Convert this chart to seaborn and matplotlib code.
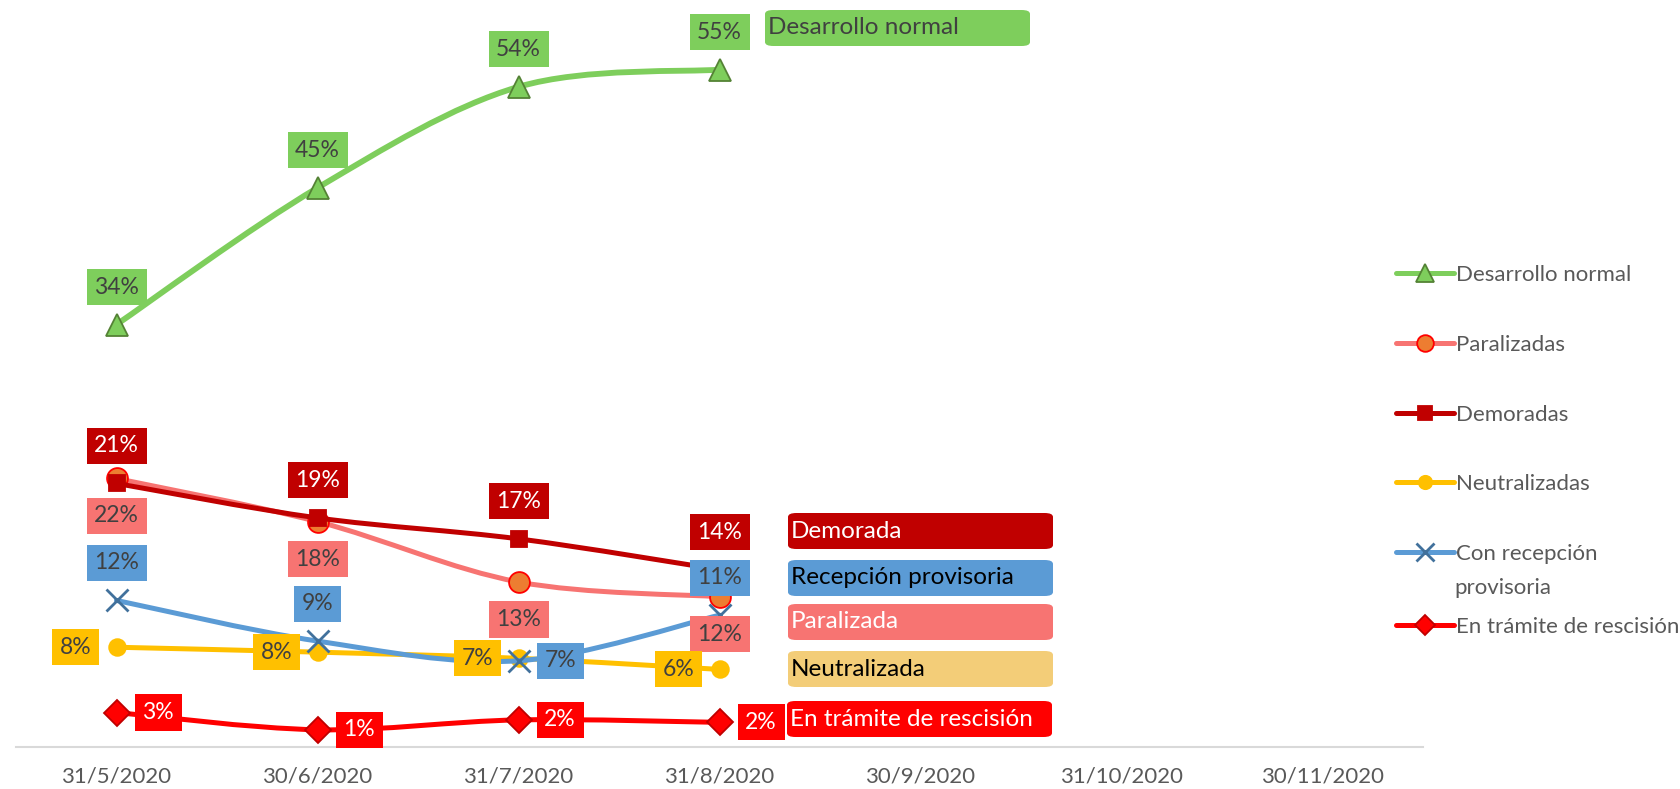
import numpy as np
import matplotlib
matplotlib.use("Agg")
import matplotlib.pyplot as plt
import seaborn as sns
from matplotlib.path import Path
from matplotlib.patches import PathPatch, FancyBboxPatch
from matplotlib.lines import Line2D

# Datos (porcentaje de obras por estado)
fechas = ['31/5/2020', '30/6/2020', '31/7/2020', '31/8/2020', '30/9/2020', '31/10/2020', '30/11/2020']
desarrollo = [34.3, 45.4, 53.6, 55.0]
paralizadas = [21.8, 18.3, 13.4, 12.2]
demoradas = [21.4, 18.6, 16.9, 14.4]
neutralizadas = [8.1, 7.7, 7.2, 6.3]
recepcion = [11.9, 8.6, 7.0, 10.7]
rescision = [2.8, 1.4, 2.2, 2.0]

sns.set_theme(style='white')
plt.rcParams['font.family'] = ['Lato', 'DejaVu Sans']

fig = plt.figure(figsize=(16.8, 7.89), dpi=100)
ax = fig.add_axes([16 / 1680, 42 / 789, 1407 / 1680, 739 / 789])

x = np.arange(len(desarrollo))


def curva_suave(ax, xs, ys, color, lw, z):
    # curva tipo Excel (Bezier Catmull-Rom) que pasa por los puntos
    p = np.column_stack([xs, ys]).astype(float)
    ext = np.vstack([p[0], p, p[-1]])
    verts = [tuple(p[0])]
    codes = [Path.MOVETO]
    for i in range(len(p) - 1):
        p0, p1, p2, p3 = ext[i], ext[i + 1], ext[i + 2], ext[i + 3]
        c1 = p1 + (p2 - p0) / 6
        c2 = p2 - (p3 - p1) / 6
        verts += [tuple(c1), tuple(c2), tuple(p2)]
        codes += [Path.CURVE4] * 3
    ax.add_patch(PathPatch(Path(verts, codes), fill=False, edgecolor=color,
                           lw=lw, capstyle='round', zorder=z))


series = [
    # nombre, valores, color linea, grosor, marcador, ms, relleno, borde, color caja, color texto, posiciones
    ('Desarrollo normal', desarrollo, '#7ECE5C', 4.2, '^', 16, '#7ECE5C', '#548235', '#7ECE5C', '#404040',
     ['a', 'a', 'a', 'a']),
    ('Paralizadas', paralizadas, '#F77472', 3.6, 'o', 15, '#ED7D31', '#FF0000', '#F77472', '#404040',
     ['b', 'b', 'b', 'b']),
    ('Demoradas', demoradas, '#C00000', 3.6, 's', 12, '#C00000', '#C00000', '#C00000', 'white',
     ['a', 'a', 'a', 'a']),
    ('Neutralizadas', neutralizadas, '#FFC000', 3.6, 'o', 12, '#FFC000', '#FFC000', '#FFC000', '#404040',
     ['l', 'l', 'l', 'l']),
    ('Con recepción', recepcion, '#5B9BD5', 3.6, 'x', 16, '#41719C', '#41719C', '#5B9BD5', '#404040',
     ['a', 'a', 'r', 'a']),
    ('En trámite de rescisión', rescision, '#FF0000', 3.6, 'D', 13, '#FF0000', '#C00000', '#FF0000', 'white',
     ['r', 'r', 'r', 'r']),
]

offsets = {'a': (0, 27), 'b': (0, -27), 'l': (-29.5, 0), 'r': (30, 0)}

handles = []
for k, (nombre, vals, col, lw, mk, ms, mfc, mec, caja, txt, pos) in enumerate(series):
    z = 3 + k
    curva_suave(ax, x, vals, col, lw, z)
    sns.lineplot(x=x, y=vals, ax=ax, color=col, marker=mk, markersize=ms,
                 markerfacecolor=mfc, markeredgecolor=mec,
                 markeredgewidth=2 if mk == 'x' else 1.3, linestyle='none', zorder=z + 0.5)
    for xi, v, p in zip(x, vals, pos):
        ax.annotate(f"{round(v)}%", (xi, v), xytext=offsets[p], textcoords='offset points',
                    ha='center', va='center', fontsize=16.5, color=txt, zorder=20,
                    bbox=dict(boxstyle='square,pad=0.33', fc=caja, ec='none'))
    handles.append(Line2D([], [], color=col, lw=3.6, marker=mk, markersize=ms * 0.8,
                          markerfacecolor=mfc, markeredgecolor=mec,
                          markeredgewidth=2 if mk == 'x' else 1.3, label=nombre))

ax.set_xlim(-0.5, len(fechas) - 0.5)
ax.set_ylim(0, 60)
ax.set_xticks(range(len(fechas)))
ax.set_xticklabels(fechas, fontsize=16, color='#595959')
ax.set_yticks([])
ax.tick_params(axis='x', length=0, pad=14)
for s in ['left', 'right', 'top']:
    ax.spines[s].set_visible(False)
ax.spines['bottom'].set_color('#D9D9D9')
ax.spines['bottom'].set_linewidth(1.5)
ax.set_xlabel('')
ax.set_ylabel('')

# leyenda: una entrada por fila, espaciado como en el original
filas_leyenda = [275, 345, 415, 484, 554, 627]
for h, yy in zip(handles, filas_leyenda):
    fig.legend(handles=[h], loc='center left', bbox_to_anchor=(1396 / 1680, 1 - yy / 789),
               frameon=False, fontsize=16, labelcolor='#595959', handlelength=2.6,
               handletextpad=0.08, borderpad=0, borderaxespad=0)
fig.text(1454 / 1680, 1 - 588 / 789, 'provisoria', ha='left', va='center', fontsize=16, color='#595959')

# cajas de texto a la derecha
cajas = [
    ('Desarrollo normal', 765, 10, '#7ECE5C', '#404040'),
    ('Demorada', 788, 513, '#C00000', 'white'),
    ('Recepción provisoria', 788, 560, '#5B9BD5', 'black'),
    ('Paralizada', 788, 604, '#F77472', 'white'),
    ('Neutralizada', 788, 651, '#F3CD78', 'black'),
    ('En trámite de rescisión', 787, 701, '#FF0000', 'white'),
]
for texto, x0, y0, fc, tc in cajas:
    w, h = 265, 36
    fig.patches.append(FancyBboxPatch((x0 / 1680, 1 - (y0 + h) / 789), w / 1680, h / 789,
                                      boxstyle='round,pad=0,rounding_size=0.005',
                                      transform=fig.transFigure, fc=fc, ec='none', zorder=5))
    fig.text((x0 + 3) / 1680, 1 - (y0 + h / 2) / 789, texto, ha='left', va='center',
             fontsize=17.5, color=tc, zorder=6)

fig.savefig('out.png', dpi=100)
